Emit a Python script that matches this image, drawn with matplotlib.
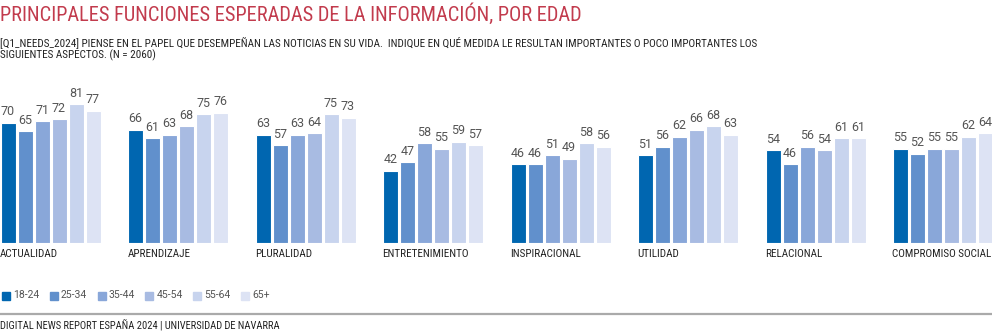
import matplotlib.pyplot as plt
from matplotlib.patches import Rectangle
import numpy as np

plt.rcParams['font.family'] = ['Roboto Condensed', 'DejaVu Sans']
num_font = ['Roboto', 'DejaVu Sans']

categories = ['ACTUALIDAD', 'APRENDIZAJE', 'PLURALIDAD', 'ENTRETENIMIENTO',
              'INSPIRACIONAL', 'UTILIDAD', 'RELACIONAL', 'COMPROMISO SOCIAL']
ages = ['18-24', '25-34', '35-44', '45-54', '55-64', '65+']
v_18_24 = [70, 66, 63, 42, 46, 51, 54, 55]
v_25_34 = [65, 61, 57, 47, 46, 56, 46, 52]
v_35_44 = [71, 63, 63, 58, 51, 62, 56, 55]
v_45_54 = [72, 68, 64, 55, 49, 66, 54, 55]
v_55_64 = [81, 75, 75, 59, 58, 68, 61, 62]
v_65 = [77, 76, 73, 57, 56, 63, 61, 64]
series = [v_18_24, v_25_34, v_35_44, v_45_54, v_55_64, v_65]
colors = ['#0066b0', '#6190cc', '#89a7d9', '#a8bbe2', '#c8d4ee', '#dde3f4']

W, H = 992, 334
fig = plt.figure(figsize=(W / 100, H / 100), dpi=100)

# chart area: x in pixels, y in percent
base = 243
scale = 1.716
ax = fig.add_axes([0, (H - base) / H, 1, 100 * scale / H])
ax.set_xlim(0, W)
ax.set_ylim(0, 100)
ax.axis('off')

pitch, step, bw = 127.5, 17, 15
for i, vals in enumerate(series):
    x = np.arange(len(categories)) * pitch + i * step + 0.5
    ax.bar(x, vals, width=bw, align='edge', color=colors[i],
           edgecolor='white', linewidth=0.8)
    for xi, v in zip(x, vals):
        ax.text(xi + bw / 2, v + 2.6, str(v), ha='center', va='bottom',
                fontsize=9, color='#555555', family=num_font)

# text layer in figure pixels
tx = fig.add_axes([0, 0, 1, 1])
tx.set_xlim(0, W)
tx.set_ylim(H, 0)
tx.axis('off')

for g, name in enumerate(categories):
    tx.text(g * pitch, 254, name, ha='left', va='center', fontsize=8, color='#222222')

tx.text(0, 14.5, 'PRINCIPALES FUNCIONES ESPERADAS DE LA INFORMACIÓN, POR EDAD',
        ha='left', va='center', fontsize=14.7, color='#c23b4d')
tx.text(0, 42, '[Q1_NEEDS_2024] PIENSE EN EL PAPEL QUE DESEMPEÑAN LAS NOTICIAS EN SU VIDA.  '
        'INDIQUE EN QUÉ MEDIDA LE RESULTAN IMPORTANTES O POCO IMPORTANTES LOS',
        ha='left', va='center', fontsize=8.0, color='#222222')
tx.text(0, 55, 'SIGUIENTES ASPECTOS. (N = 2060)',
        ha='left', va='center', fontsize=8.0, color='#222222')

# legend
for i, (lab, c) in enumerate(zip(ages, colors)):
    lx = 2 + i * 47.8
    tx.add_patch(Rectangle((lx, 291.5), 8, 8, color=c))
    tx.text(lx + 11, 295.5, lab, ha='left', va='center', fontsize=7.5,
            color='#555555', family=num_font)

tx.plot([0, W], [313.5, 313.5], color='#aaaaaa', lw=1.6)
tx.text(0, 325, 'DIGITAL NEWS REPORT ESPAÑA 2024 | UNIVERSIDAD DE NAVARRA',
        ha='left', va='center', fontsize=7.6, color='#222222')

fig.savefig('out.png', dpi=100)
